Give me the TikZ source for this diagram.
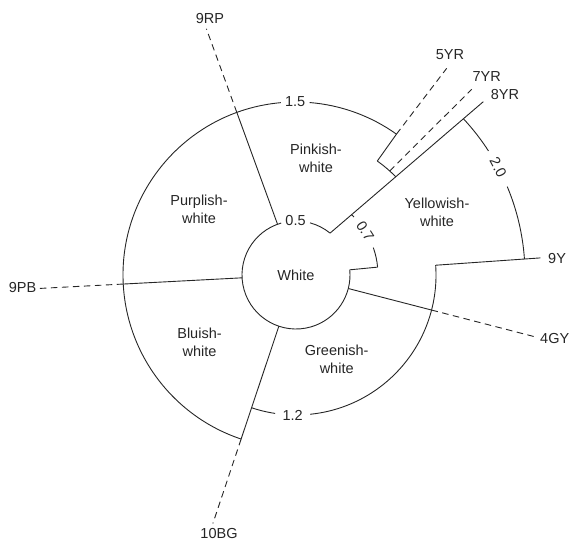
\documentclass[tikz,border=0pt]{standalone}
\usepackage{fontspec}
\setmainfont{Liberation Sans}
\usetikzlibrary{calc}
\begin{document}
\begin{tikzpicture}[x=1pt,y=1pt,
  bnd/.style={line width=0.9pt, black!85},
  hue/.style={line width=0.9pt, black!85, dash pattern=on 6.5pt off 4.5pt},
  region/.style={align=center, font=\fontsize{14.5}{18}\selectfont, inner sep=0pt, text=black!85},
  lab/.style={font=\fontsize{14.5}{17}\selectfont, inner sep=0pt, text=black!85},
]
\useasboundingbox (0,0) rectangle (570,543);
\coordinate (C) at (296,268);
% key points
\coordinate (w8) at ($(C)+(50.86:54)$);
\coordinate (y8) at (483.3,441.3);
\coordinate (A) at ($(C)+(54.5:173)$);
\coordinate (B) at ($(C)+(54.5:140)$);
\coordinate (e5) at (446.7,474.7);
\coordinate (s7) at ($(C)+(48:140)$);
\coordinate (e7) at (471.7,453.7);
\coordinate (rp0) at ($(C)+(110:54)$);
\coordinate (rp1) at ($(C)+(110:173)$);
\coordinate (rp2) at ($(C)+(110:262)$);
\coordinate (pb0) at ($(C)+(183:54)$);
\coordinate (pb1) at ($(C)+(183:173)$);
\coordinate (pb2) at ($(C)+(183:258)$);
\coordinate (bg0) at ($(C)+(251.5:54)$);
\coordinate (bg1) at ($(C)+(251.5:173)$);
\coordinate (bg2) at ($(C)+(251.5:262)$);
\coordinate (bgg) at ($(C)+(251.5:140)$);
\coordinate (gy0) at ($(C)+(-14.5:54)$);
\coordinate (gy1) at ($(C)+(-14.5:140)$);
\coordinate (gy2) at ($(C)+(-14.5:250)$);
\coordinate (ya) at ($(C)+(5.5:54)$);
\coordinate (yb) at ($(C)+(5.5:82)$);
\coordinate (yc) at ($(C)+(4:140)$);
\coordinate (yd) at ($(C)+(4:245)$);
\coordinate (y20) at ($(C)+(4:229)$);

% inner circle (0.5) with gap for label
\draw[bnd] (w8) arc[start angle=50.86, end angle=75, radius=54];
\draw[bnd] ($(C)+(106:54)$) arc[start angle=106, end angle=365.5, radius=54];
% notch to 0.7
\draw[bnd] (ya) -- (yb);
\draw[bnd] (yb) arc[start angle=5.5, end angle=19.5, radius=82];
\draw[bnd] ($(C)+(45:82)$) arc[start angle=45, end angle=47.35, radius=82];
% outer 1.5 arc
\draw[bnd] (A) arc[start angle=54.5, end angle=85.5, radius=173];
\draw[bnd] ($(C)+(95:173)$) arc[start angle=95, end angle=251.5, radius=173];
% step near 5YR-8YR
\draw[bnd] (A) -- (B);
\draw[bnd] (B) arc[start angle=54.5, end angle=44.55, radius=140];
% greenish 1.2 arc
\draw[bnd] (bgg) arc[start angle=251.5, end angle=261.4, radius=140];
\draw[bnd] ($(C)+(275.8:140)$) arc[start angle=275.8, end angle=364, radius=140];
% yellowish 2.0 arc
\draw[bnd] (y20) arc[start angle=4, end angle=22.7, radius=229];
\draw[bnd] ($(C)+(32.8:229)$) arc[start angle=32.8, end angle=43.04, radius=229];

% hue lines
\draw[bnd] (w8) -- (y8);
\draw[hue] (A) -- (e5);
\draw[hue] (s7) -- (e7);
\draw[bnd] (rp0) -- (rp1); \draw[hue] (rp1) -- (rp2);
\draw[bnd] (pb0) -- (pb1); \draw[hue] (pb1) -- (pb2);
\draw[bnd] (bg0) -- (bg1); \draw[hue] (bg1) -- (bg2);
\draw[bnd] (gy0) -- (gy1); \draw[hue] (gy1) -- (gy2);
\draw[bnd] (yc) -- (yd);

% chroma labels
\node[lab] (l05) at ($(C)+(90.5:54)$) {0.5};
\node[lab, rotate=-57.5] (l07) at ($(C)+(32.5:82)$) {0.7};
\node[lab] (l15) at ($(C)+(90.3:173)$) {1.5};
\node[lab] (l12) at ($(C)+(-91.4:140)$) {1.2};
\node[lab, rotate=-62] (l20) at ($(C)+(28:229)$) {2.0};

% hue labels
\node[lab] (t9RP) at (210,524.3) {9RP};
\node[lab] (t5YR) at (450,488.5) {5YR};
\node[lab] (t7YR) at (486.7,466.3) {7YR};
\node[lab] (t8YR) at (505,448) {8YR};
\node[lab, anchor=west] (t9Y) at (548,284.7) {9Y};
\node[lab, anchor=west] (t4GY) at (540,204.5) {4GY};
\node[lab] (t9PB) at (22.5,255.7) {9PB};
\node[lab] (t10BG) at (219,9.7) {10BG};

% region names
\node[region] (white) at (296,268) {White};
\node[region] (pink) at (316,384.5) {Pinkish-\\white};
\node[region] (purple) at (199,334) {Purplish-\\white};
\node[region] (yellow) at (437,330.5) {Yellowish-\\white};
\node[region] (blue) at (199.5,201) {Bluish-\\white};
\node[region] (green) at (336.7,183.5) {Greenish-\\white};
\end{tikzpicture}
\end{document}
